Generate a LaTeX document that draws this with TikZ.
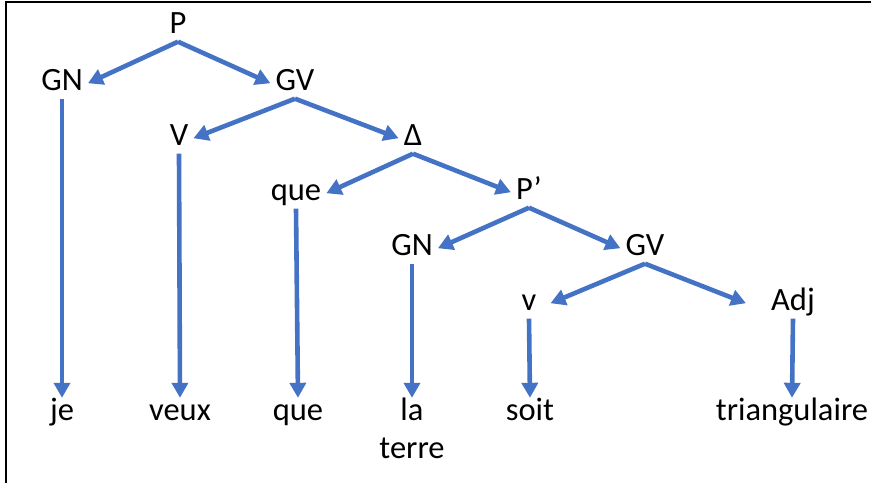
\documentclass[tikz,border=0pt]{standalone}
\usepackage{fontspec}
\setmainfont{Carlito}
\usetikzlibrary{arrows.meta}
\definecolor{officeblue}{HTML}{4472C4}

\begin{document}
\begin{tikzpicture}[x=1pt,y=-1pt]
    \tikzstyle{every node}=[anchor=base, inner xsep=5pt, inner ysep=1pt, text height=21pt, text depth=7.5pt, font=\fontsize{32.5}{38}\selectfont, text=black]
    \tikzstyle{edge}=[officeblue, line width=4.6pt, -{Triangle[length=15pt,width=16pt]}]

    \useasboundingbox (0,0) rectangle (871,483);
    \draw[line width=2.5pt] (6,483) -- (6,2) -- (871,2);

    % tree
    \node (p) at (178,33) {P};
    \node (gn1) at (62,90) {GN};
    \node (gv1) at (295,90) {GV};
    \node (v1) at (179,145) {V};
    \node (delta) at (413,145) {Δ};
    \node (que1) at (296,200) {que};
    \node (pp) at (529,199) {P’};
    \node (gn2) at (412,255) {GN};
    \node (gv2) at (645,255) {GV};
    \node (v2) at (529,310) {v};
    \node (adj) at (793,310) {Adj};

    % words
    \node (je) at (62,420) {je};
    \node (veux) at (180,420) {veux};
    \node (que2) at (298,420) {que};
    \node (la) at (412,420) {la};
    \node (terre) at (412,458) {terre};
    \node (soit) at (530,420) {soit};
    \node (tri) at (792,420) {triangulaire};

    \draw[edge] (p.south) -- (gn1.east);
    \draw[edge] (p.south) -- (gv1.west);
    \draw[edge] (gv1.south) -- (v1.east);
    \draw[edge] (gv1.south) -- (delta.west);
    \draw[edge] (delta.south) -- (que1.east);
    \draw[edge] (delta.south) -- (pp.west);
    \draw[edge] (pp.south) -- (gn2.east);
    \draw[edge] (pp.south) -- (gv2.west);
    \draw[edge] (gv2.south) -- ([xshift=9pt]v2.east);
    \draw[edge] (gv2.south) -- ([xshift=-20pt]adj.west);

    \draw[edge] (gn1.south) -- (je.north);
    \draw[edge] (v1.south) -- (veux.north);
    \draw[edge] (que1.south) -- (que2.north);
    \draw[edge] (gn2.south) -- (la.north);
    \draw[edge] (v2.south) -- (soit.north);
    \draw[edge] (adj.south) -- (tri.north);
\end{tikzpicture}
\end{document}
